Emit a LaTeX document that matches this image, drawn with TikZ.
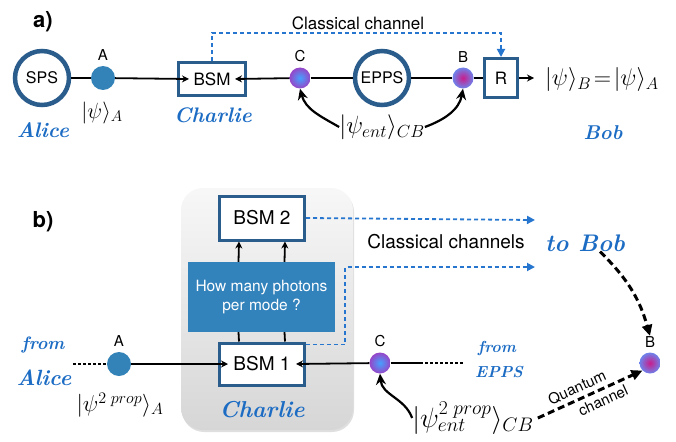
\RequirePackage{fix-cm}
\documentclass[tikz,border=0pt]{standalone}
\usepackage{fontspec}
\setsansfont{TeX Gyre Heros}
\usetikzlibrary{positioning, arrows.meta, shadows}

\definecolor{ringblue}{RGB}{42,92,140}
\definecolor{dotblue}{RGB}{52,131,184}
\definecolor{nameblue}{RGB}{28,108,196}
\definecolor{chanblue}{RGB}{38,118,208}
\definecolor{qblue}{RGB}{50,130,188}
\definecolor{cinner}{RGB}{70,160,255}
\definecolor{couter}{RGB}{150,70,200}
\definecolor{binner}{RGB}{200,30,140}
\definecolor{bouter}{RGB}{110,130,235}

\tikzset{
  sansfont/.style={font=\sffamily\fontsize{#1}{#1}\selectfont},
  whofont/.style={text=nameblue, font=\bfseries\itshape\fontsize{#1}{#1}\selectfont},
  source/.style={circle, draw=ringblue, line width=4.5pt, minimum size=54pt, fill=white, sansfont=16},
  bsmbox/.style={rectangle, draw=ringblue, line width=3pt, fill=white, sansfont=17},
  photA/.style={circle, fill=dotblue, minimum size=24pt},
  photC/.style={circle, minimum size=21pt, inner color=cinner, outer color=couter},
  photB/.style={circle, minimum size=21pt, inner color=binner, outer color=bouter},
  plabel/.style={sansfont=15},
  ket/.style={font=\fontsize{#1}{#1}\selectfont},
  ket/.default=22,
  wire/.style={line width=1.8pt},
  wirearr/.style={wire, -{Stealth[length=7pt,width=7pt]}},
  clarr/.style={chanblue, line width=1.8pt, dash pattern=on 4pt off 3pt, -{Triangle[length=8pt,width=8pt]}},
  bendarr/.style={line width=2.2pt, -{Stealth[length=11pt,width=10pt]}},
  qarr/.style={line width=3pt, dash pattern=on 7pt off 4pt, -{Triangle[length=11pt,width=10pt]}},
  panel/.style={font=\sffamily\bfseries\fontsize{22}{24}\selectfont},
}

\begin{document}
\begin{tikzpicture}[x=1pt, y=-1pt, every node/.append style={inner sep=0pt},
  charliebg/.style={rounded corners=22pt, minimum width=172pt, minimum height=242pt,
    top color=gray!6, bottom color=gray!32,
    drop shadow={opacity=0.25, shadow xshift=1pt, shadow yshift=-2pt}},
  qbox/.style={fill=qblue, text=white, minimum width=147pt, minimum height=70pt,
    align=center, sansfont=15.5}]
\useasboundingbox (0,0) rectangle (676,441);

% a) teleportation
\node[panel] (pa) at (43,22) {a)};
\node[source] (sps) at (42,78) {SPS};
\node[photA] (dA) at (103,78) {};
\node[plabel, above=5pt of dA] (lA) {A};
\node[ket] (psiA) at (102,113) {$|\psi\rangle_A$};
\node[whofont=21] (alice) at (43,130) {Alice};
\node[bsmbox, minimum width=67pt, minimum height=33pt] (bsm) at (212,79) {BSM};
\node[whofont=21] (charlie) at (213,115) {Charlie};
\node[photC] (dC) at (300,78) {};
\node[plabel, above=5pt of dC] (lC) {C};
\node[source] (epps) at (382,78) {EPPS};
\node[photB] (dB) at (463,78) {};
\node[plabel, above=5pt of dB] (lB) {B};
\node[bsmbox, minimum width=33pt, minimum height=39pt] (rbox) at (501,78) {R};
\coordinate (rout) at (534,78);
\node[ket=24] (psiB) at (602,80) {$|\psi\rangle_B\!=\!|\psi\rangle_A$};
\node[whofont=20] (bob) at (603,133) {Bob};
\node[ket=25] (psient) at (382,127) {$|\psi_{ent}\rangle_{CB}$};
\node[sansfont=17] (cch) at (358,23) {Classical channel};

\draw[wire] (sps) -- (dA);
\draw[wirearr] (dA) -- ([xshift=12pt]bsm.west);
\draw[wirearr] (dC) -- ([xshift=-12pt]bsm.east);
\draw[wire] (dC) -- (epps);
\draw[wire] (epps) -- (dB);
\draw[wire] (dB) -- (rbox);
\draw[wirearr] (rbox) -- (rout);
\draw[bendarr] (psient.west) to[out=150, in=-75] (dC.south);
\draw[bendarr] (psient.east) to[out=20, in=-100] (dB.south);
\draw[clarr] (bsm.north) -- ++(0,-28) -| (rbox.north);

% b) with photon counting
\node[panel] (pb) at (43,222) {b)};
\node[charliebg] (cbg) at (267,309) {};
\node[bsmbox, minimum width=85pt, minimum height=44pt, sansfont=19] (bsm2) at (262,218) {BSM 2};
\node[qbox] (qbox) at (261.5,297) {How many photons\\[3pt]per mode ?};
\node[bsmbox, minimum width=85pt, minimum height=42pt, sansfont=19] (bsm1) at (262,364) {BSM 1};
\node[whofont=23] (charlie2) at (262,410) {Charlie};
\node[photA] (dA2) at (119,364) {};
\node[plabel, above=5pt of dA2] (lA2) {A};
\coordinate (alin) at (73,364);
\node[whofont=18] (from1) at (43,345) {from};
\node[whofont=22] (alice2) at (44,378) {Alice};
\node[ket=23] (psiA2) at (120,405) {$|\psi^{2\;prop}\rangle_A$};
\node[photC] (dC2) at (380,363) {};
\node[plabel, above=5pt of dC2] (lC2) {C};
\coordinate (cmid) at (420,363);
\coordinate (cin) at (463,363);
\node[whofont=16] (from2) at (497,348) {from};
\node[whofont=16] (epps2) at (499,372) {EPPS};
\node[ket=28] (psient2) at (473,418) {$|\psi^{2\;prop}_{ent}\rangle_{CB}$};
\node[photB] (dB2) at (650,363) {};
\node[plabel, above=5pt of dB2] (lB2) {B};
\node[whofont=24] (tobob) at (585,243) {to Bob};
\coordinate (cc1) at (535,220);
\coordinate (cc2) at (535,267);
\node[sansfont=19] (cchs) at (446,242) {Classical channels};

\draw[wire, dash pattern=on 3pt off 2pt] (alin) -- (dA2);
\draw[wirearr] (dA2) -- ([xshift=10pt]bsm1.west);
\draw[wirearr] (dC2) -- ([xshift=-10pt]bsm1.east);
\draw[wire] (dC2) -- (cmid);
\draw[wire, dash pattern=on 3pt off 2pt] (cmid) -- (cin);
\draw[wirearr] ([xshift=-23pt]qbox.north) -- ([xshift=-23pt]bsm2.south);
\draw[wirearr] ([xshift=23pt]qbox.north) -- ([xshift=23pt]bsm2.south);
\draw[wire] ([xshift=-23pt]bsm1.north) -- ([xshift=-23pt]qbox.south);
\draw[wire] ([xshift=23pt]bsm1.north) -- ([xshift=23pt]qbox.south);
\draw[clarr] (bsm2.east) -- (cc1);
\draw[clarr] ([yshift=-3pt]bsm1.north east) -- ++(39,0) |- (cc2);
\draw[bendarr] (psient2.west) to[out=110, in=-85] (dC2.south);
\draw[qarr] ([xshift=15pt]tobob.south) to[bend left=15] (lB2.north);
\draw[qarr] ([xshift=4pt]psient2.east) -- (dB2.south west)
  node[pos=0.42, above=4pt, sloped, sansfont=15] (qch) {Quantum}
  node[pos=0.58, below=4pt, sloped, sansfont=15] (qch2) {channel};
\end{tikzpicture}
\end{document}
